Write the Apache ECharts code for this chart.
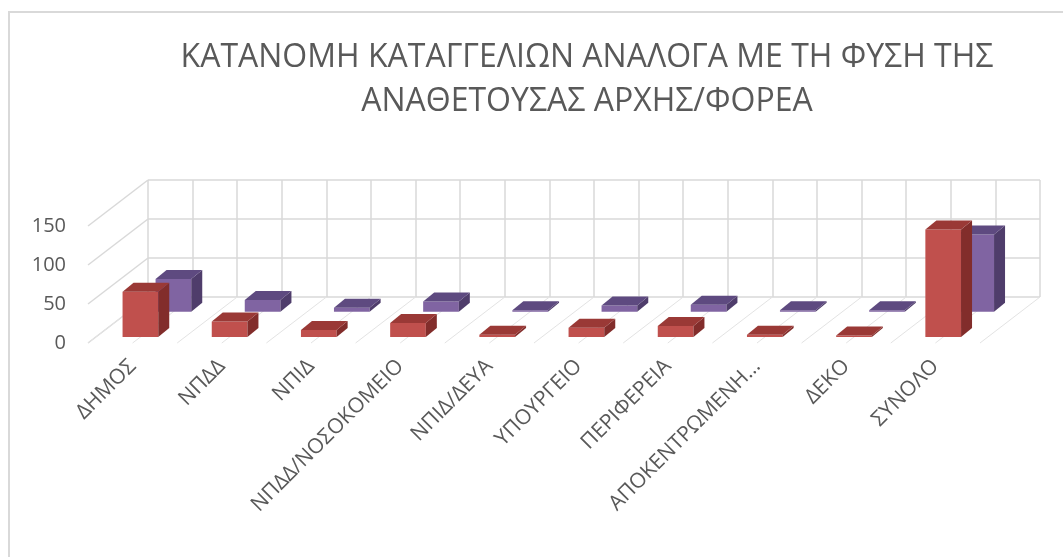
<!DOCTYPE html>
<html><head><meta charset="utf-8">
<script src="https://cdn.jsdelivr.net/npm/echarts@6/dist/echarts.min.js"></script>
<style>html,body{margin:0;padding:0;background:#fff}#c{width:1063px;height:557px}</style>
</head><body><div id="c"></div>
<script>
const categories = ['ΔΗΜΟΣ','ΝΠΔΔ','ΝΠΙΔ','ΝΠΔΔ/ΝΟΣΟΚΟΜΕΙΟ','ΝΠΙΔ/ΔΕΥΑ','ΥΠΟΥΡΓΕΙΟ','ΠΕΡΙΦΕΡΕΙΑ','ΑΠΟΚΕΝΤΡΩΜΕΝΗ…','ΔΕΚΟ','ΣΥΝΟΛΟ'];
const seriesFront = [58, 20, 9, 18, 3, 12, 14, 3, 2, 138];
const seriesBack  = [42, 15, 5, 13, 2, 8, 9, 2, 2, 99];
const yTicks = [0, 50, 100, 150];
const titleText = 'ΚΑΤΑΝΟΜΗ ΚΑΤΑΓΓΕΛΙΩΝ ΑΝΑΛΟΓΑ ΜΕ ΤΗ ΦΥΣΗ ΤΗΣ\nΑΝΑΘΕΤΟΥΣΑΣ ΑΡΧΗΣ/ΦΟΡΕΑ';

// layout (pixels)
const FRONT = {left: 88, right: 83, top: 226, bottom: 214};
const DEPTH = [60, -46];          // front plane -> back wall
const BOX = [11, -9];             // depth of each bar box
const ROW_FRONT = 0.13, ROW_BACK = 0.68;
const BAR_W = 0.40;
const TXT = '#595959', GRID = '#d9d9d9', FLOOR = '#e3e3e3';

const chart = echarts.init(document.getElementById('c'));

function barRenderer(rowFrac, colors) {
  return function (params, api) {
    const i = api.value(0), v = api.value(1);
    const base = api.coord([i, 0]);
    const top = api.coord([i, v]);
    const band = api.size([1, 0])[0];
    const w = band * BAR_W;
    const ox = DEPTH[0] * rowFrac, oy = DEPTH[1] * rowFrac;
    const x0 = base[0] + ox - w / 2, x1 = x0 + w;
    const yb = base[1] + oy, yt = top[1] + oy;
    const dx = BOX[0], dy = BOX[1];
    return {
      type: 'group',
      children: [
        {type: 'polygon', shape: {points: [[x0, yb], [x1, yb], [x1, yt], [x0, yt]]}, style: {fill: colors[0]}},
        {type: 'polygon', shape: {points: [[x1, yb], [x1 + dx, yb + dy], [x1 + dx, yt + dy], [x1, yt]]}, style: {fill: colors[1]}},
        {type: 'polygon', shape: {points: [[x0, yt], [x1, yt], [x1 + dx, yt + dy], [x0 + dx, yt + dy]]}, style: {fill: colors[2]}}
      ]
    };
  };
}

// frame: kind 0 = left-wall diagonal at a y tick, kind 1 = floor diagonal at a half-category step
const frameData = [];
yTicks.forEach(t => frameData.push([0, t]));
for (let k = 0; k <= categories.length * 2; k++) frameData.push([1, k]);

function frameRenderer(params, api) {
  const kind = api.value(2), val = api.value(3);
  const band = api.size([1, 0])[0];
  let p;
  if (kind === 0) {
    const c = api.coord([0, val]);
    p = [c[0] - band / 2, c[1]];
  } else {
    const c = api.coord([0, 0]);
    p = [c[0] - band / 2 + val * band / 2, c[1]];
  }
  return {
    type: 'line',
    shape: {x1: p[0], y1: p[1], x2: p[0] + DEPTH[0], y2: p[1] + DEPTH[1]},
    style: {stroke: kind === 0 ? GRID : FLOOR, lineWidth: kind === 0 ? 1.5 : 1}
  };
}

chart.setOption({
  animation: false,
  backgroundColor: '#fff',
  title: {
    text: titleText,
    left: 582, top: 31, textAlign: 'center',
    textStyle: {fontFamily: 'Open Sans', fontWeight: 'normal', fontSize: 32, lineHeight: 44, color: TXT}
  },
  graphic: [{
    type: 'rect', shape: {x: 9, y: 12, width: 1200, height: 700},
    style: {fill: null, stroke: GRID, lineWidth: 2}, silent: true, z: -10
  }],
  grid: [
    {left: FRONT.left, right: FRONT.right, top: FRONT.top, bottom: FRONT.bottom},
    {left: FRONT.left + DEPTH[0], right: FRONT.right - DEPTH[0], top: FRONT.top + DEPTH[1], bottom: FRONT.bottom - DEPTH[1]}
  ],
  xAxis: [
    {type: 'category', gridIndex: 0, data: categories, boundaryGap: true,
     axisLine: {show: false}, axisTick: {show: false}, splitLine: {show: false},
     axisLabel: {rotate: 45, interval: 0, margin: 20, color: TXT, fontFamily: 'Open Sans', fontSize: 21}},
    {type: 'value', gridIndex: 1, min: 0, max: categories.length * 2, interval: 1,
     axisLine: {show: false}, axisTick: {show: false}, axisLabel: {show: false},
     splitLine: {show: true, lineStyle: {color: GRID, width: 1.5}}}
  ],
  yAxis: [
    {type: 'value', gridIndex: 0, min: 0, max: 150, interval: 50,
     axisLine: {show: false}, axisTick: {show: false}, splitLine: {show: false},
     axisLabel: {margin: 22, color: TXT, fontFamily: 'Open Sans', fontSize: 20}},
    {type: 'value', gridIndex: 1, min: 0, max: 150, interval: 50,
     axisLine: {show: false}, axisTick: {show: false}, axisLabel: {show: false},
     splitLine: {show: true, lineStyle: {color: GRID, width: 1.5}}}
  ],
  series: [
    {type: 'custom', name: 'frame', xAxisIndex: 0, yAxisIndex: 0, silent: true,
     renderItem: frameRenderer, data: frameData.map(d => [0, 0, d[0], d[1]]),
     encode: {x: 0, y: 1}, z: 1},
    {type: 'custom', name: 'Σειρά 2', xAxisIndex: 0, yAxisIndex: 0,
     renderItem: barRenderer(ROW_BACK, ['#8064A2', '#4F3D6B', '#5E4A80']),
     data: seriesBack.map((v, i) => [i, v]), encode: {x: 0, y: 1}, z: 2},
    {type: 'custom', name: 'Σειρά 1', xAxisIndex: 0, yAxisIndex: 0,
     renderItem: barRenderer(ROW_FRONT, ['#C0504D', '#822D2B', '#9A3936']),
     data: seriesFront.map((v, i) => [i, v]), encode: {x: 0, y: 1}, z: 3}
  ]
});
</script></body></html>
